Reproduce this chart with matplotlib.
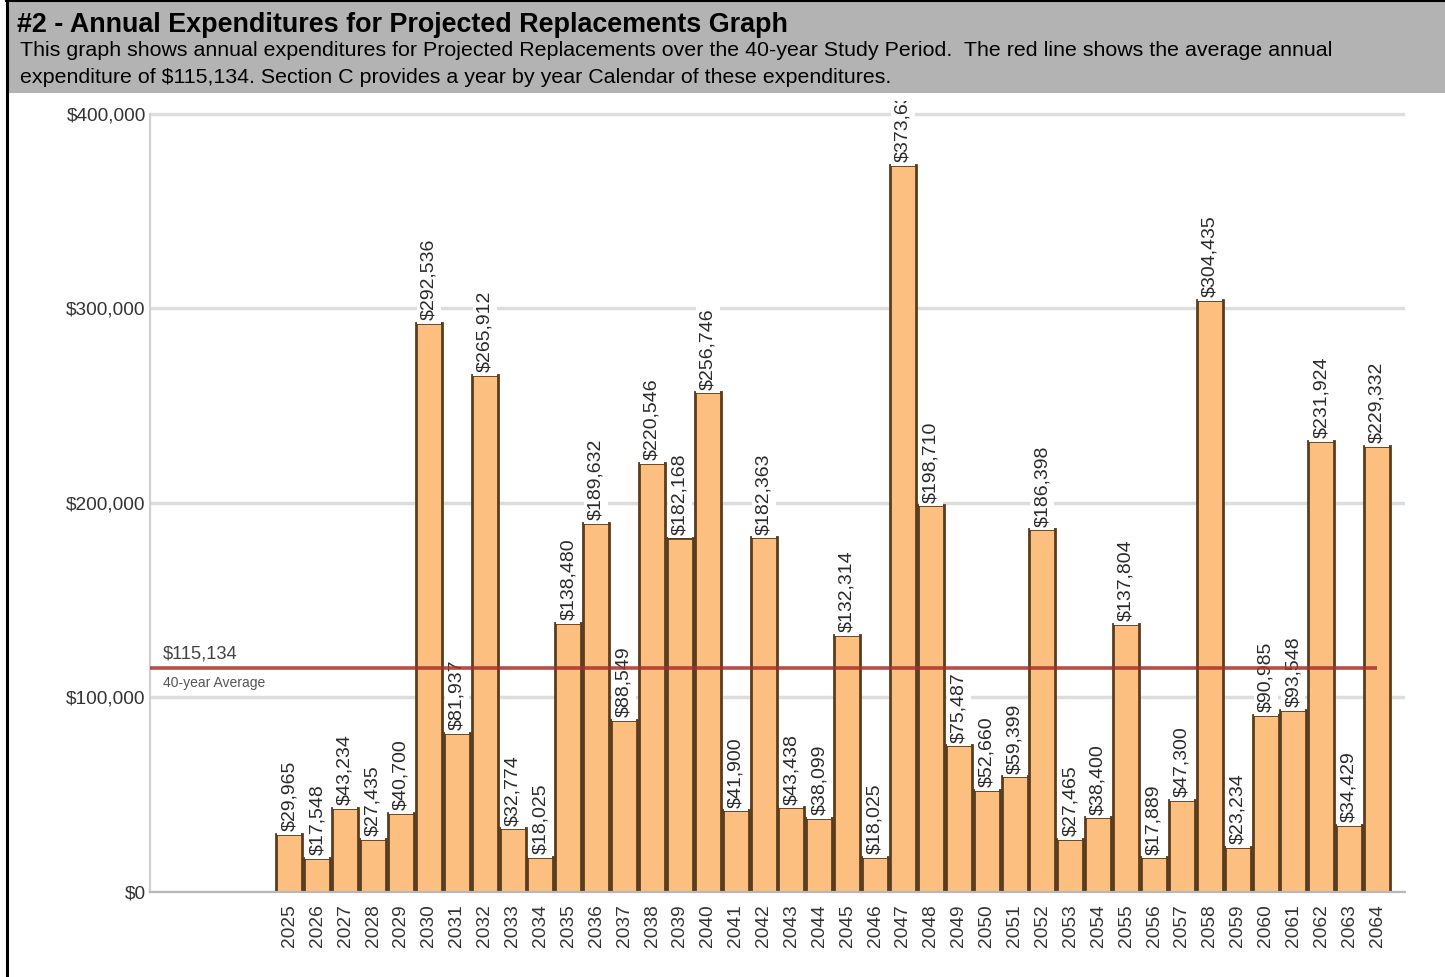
import matplotlib.pyplot as plt
from matplotlib.patches import Rectangle
from matplotlib.lines import Line2D

years = list(range(2025, 2065))
spend = [29965, 17548, 43234, 27435, 40700, 292536, 81937, 265912, 32774, 18025,
         138480, 189632, 88549, 220546, 182168, 256746, 41900, 182363, 43438, 38099,
         132314, 18025, 373635, 198710, 75487, 52660, 59399, 186398, 27465, 38400,
         137804, 17889, 47300, 304435, 23234, 90985, 93548, 231924, 34429, 229332]
average = 115134
yticks = [0, 100000, 200000, 300000, 400000]

title = "#2 - Annual Expenditures for Projected Replacements Graph"
desc1 = ("This graph shows annual expenditures for Projected Replacements over the 40-year "
         "Study Period.  The red line shows the average annual")
desc2 = (f"expenditure of ${average:,}. Section C provides a year by year Calendar "
         "of these expenditures.")

plt.rcParams['font.family'] = ['Liberation Sans', 'DejaVu Sans']

W, H = 1445, 977
fig = plt.figure(figsize=(W / 100, H / 100), dpi=100, facecolor='white')

# grey header band with black top/left rules
fig.add_artist(Rectangle((6 / W, 1 - 93 / H), 1 - 6 / W, 93 / H,
                         transform=fig.transFigure, facecolor='#b3b3b3',
                         edgecolor='none', zorder=0))
fig.add_artist(Line2D([6 / W, 1], [1 - 1 / H, 1 - 1 / H], transform=fig.transFigure,
                      color='black', lw=1.5))
fig.add_artist(Line2D([6.5 / W, 6.5 / W], [0, 1], transform=fig.transFigure,
                      color='black', lw=2.2))

fig.text(17 / W, 1 - 32 / H, title, fontsize=19.4, fontweight='bold',
         va='baseline', ha='left', color='black')
fig.text(20 / W, 1 - 56 / H, desc1, fontsize=15.4, va='baseline', ha='left', color='black')
fig.text(20 / W, 1 - 83 / H, desc2, fontsize=15.4, va='baseline', ha='left', color='black')

ax = fig.add_axes([150 / W, 1 - 892 / H, 1255 / W, 791 / H])
x = list(range(len(years)))
ax.bar(x, spend, width=0.93, color='#fdbf80', edgecolor='#5a3d1f', linewidth=2.0, zorder=2)

# value labels sit on white boxes just above each bar
for xi, v in zip(x, spend):
    t = ax.text(xi, v + 1300, f"${v:,}", rotation=90, ha='center', va='bottom',
                fontsize=14, color='#2a2a2a', zorder=3,
                bbox=dict(boxstyle='square,pad=0.18', facecolor='white', edgecolor='none'))
    t.set_clip_on(True)
    t.set_clip_path(ax.patch)

ax.plot([-5, len(years) - 1], [average, average], color='#a8302a', lw=2.6,
        alpha=0.85, zorder=5, solid_capstyle='butt')
ax.text(-4.55, average + 2800, f"${average:,}", fontsize=13.2, color='#444444',
        ha='left', va='bottom', zorder=6)
ax.text(-4.55, average - 4300, "40-year Average", fontsize=10, color='#555555',
        ha='left', va='top', zorder=6)

ax.set_xlim(-5, 40)
ax.set_ylim(0, 406500)
ax.set_xticks(x)
ax.set_xticklabels([str(y) for y in years], rotation=90, fontsize=13.8, color='#333333')
ax.set_yticks(yticks)
ax.set_yticklabels([f"${v:,}" for v in yticks], fontsize=13.7, color='#333333')
ax.tick_params(axis='x', length=0, pad=9)
ax.tick_params(axis='y', length=0, pad=3)

ax.grid(axis='y', color='#dddddd', lw=2.5, zorder=0)
ax.set_axisbelow(True)
for side in ['top', 'right']:
    ax.spines[side].set_visible(False)
ax.spines['left'].set_color('#d0d0d0')
ax.spines['left'].set_linewidth(1.6)
ax.spines['left'].set_bounds(0, 400000)
ax.spines['bottom'].set_color('#b8b8b8')
ax.spines['bottom'].set_linewidth(1.6)

fig.savefig('out.png', dpi=100)
